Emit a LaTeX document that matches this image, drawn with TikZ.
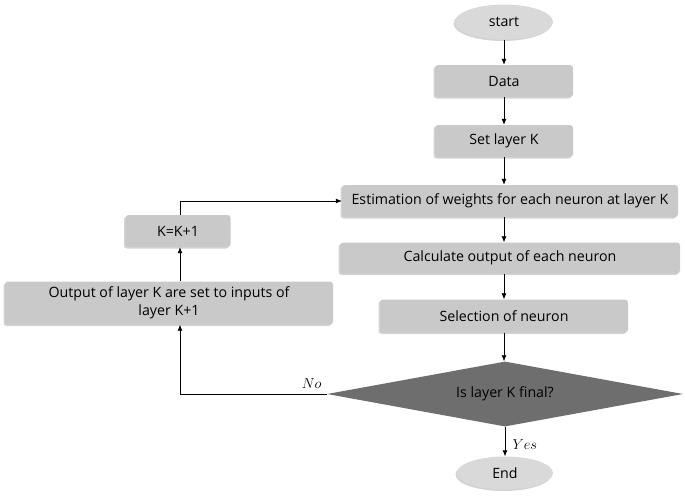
\documentclass[tikz,border=0pt]{standalone}
\usepackage{fontspec}
\setmainfont{Open Sans}
\usetikzlibrary{shapes.geometric,arrows.meta,shadows}
\begin{document}
\begin{tikzpicture}[x=1pt,y=-1pt,
  font=\fontsize{14.2}{17.5}\selectfont,
  box/.style={draw=none,fill=boxgray,rounded corners=3pt,minimum height=32pt,inner sep=0pt,
    drop shadow={shadow xshift=-1.5pt,shadow yshift=-1.5pt,opacity=0.35}},
  term/.style={ellipse,draw=none,fill=termgray,inner sep=0pt,
    drop shadow={shadow xshift=-1.5pt,shadow yshift=-1.5pt,opacity=0.35}},
  arr/.style={-{Latex[length=6pt,width=5pt]},line width=0.8pt,black},
  lbl/.style={font=\fontsize{15}{18}\selectfont}]
\definecolor{boxgray}{HTML}{C9C9C9}
\definecolor{termgray}{HTML}{D9D9D9}
\definecolor{diagray}{HTML}{6E6E6E}
\useasboundingbox (0,0) rectangle (685,496);
\node[term,minimum width=98pt,minimum height=35pt] (start) at (504,22) {start};
\node[box,minimum width=138pt] (data) at (504,81) {Data};
\node[box,minimum width=138pt] (set) at (504,141) {Set layer K};
\node[box,minimum width=336pt] (est) at (510,201) {Estimation of weights for each neuron at layer K};
\node[box,minimum width=340pt,minimum height=31pt] (calc) at (510,258) {Calculate output of each neuron};
\node[box,minimum width=248pt,minimum height=33pt] (sel) at (504,316) {Selection of neuron};
\node[diamond,fill=diagray,minimum width=356pt,minimum height=65pt,inner sep=0pt,aspect=5.5] (dec) at (505,394) {};
\node (dect) at (505,394) {Is layer K final?};
\node[term,minimum width=96pt,minimum height=33pt] (end) at (505,473) {End};
\node[box,minimum width=105pt] (kk) at (178,231) {K=K+1};
\node[box,minimum width=328pt,minimum height=43pt,align=center] (out) at (169,303) {Output of layer K are set to inputs of\\layer K+1};
\coordinate (c1) at (180,394);
\coordinate (c2) at (180,201);
\node[lbl,anchor=south east] (no) at (325,392) {$No$};
\node[lbl,anchor=west] (yes) at (509,445) {$Yes$};
\draw[arr] (start) -- (data);
\draw[arr] (data) -- (set);
\draw[arr] (set.south) -- (set.south |- est.north);
\draw[arr] (est.south -| sel.north) -- (sel.north |- calc.north);
\draw[arr] (calc.south -| sel.north) -- (sel.north);
\draw[arr] (sel.south) -- (sel.south |- dec.north);
\draw[arr] (dec.south) -- (end.north);
\draw[arr] (dec.west) -- (c1) -- (c1 |- out.south);
\draw[arr] (c1 |- out.north) -- (c1 |- kk.south);
\draw[arr] (c1 |- kk.north) -- (c2) -- (est.west);
\end{tikzpicture}
\end{document}
